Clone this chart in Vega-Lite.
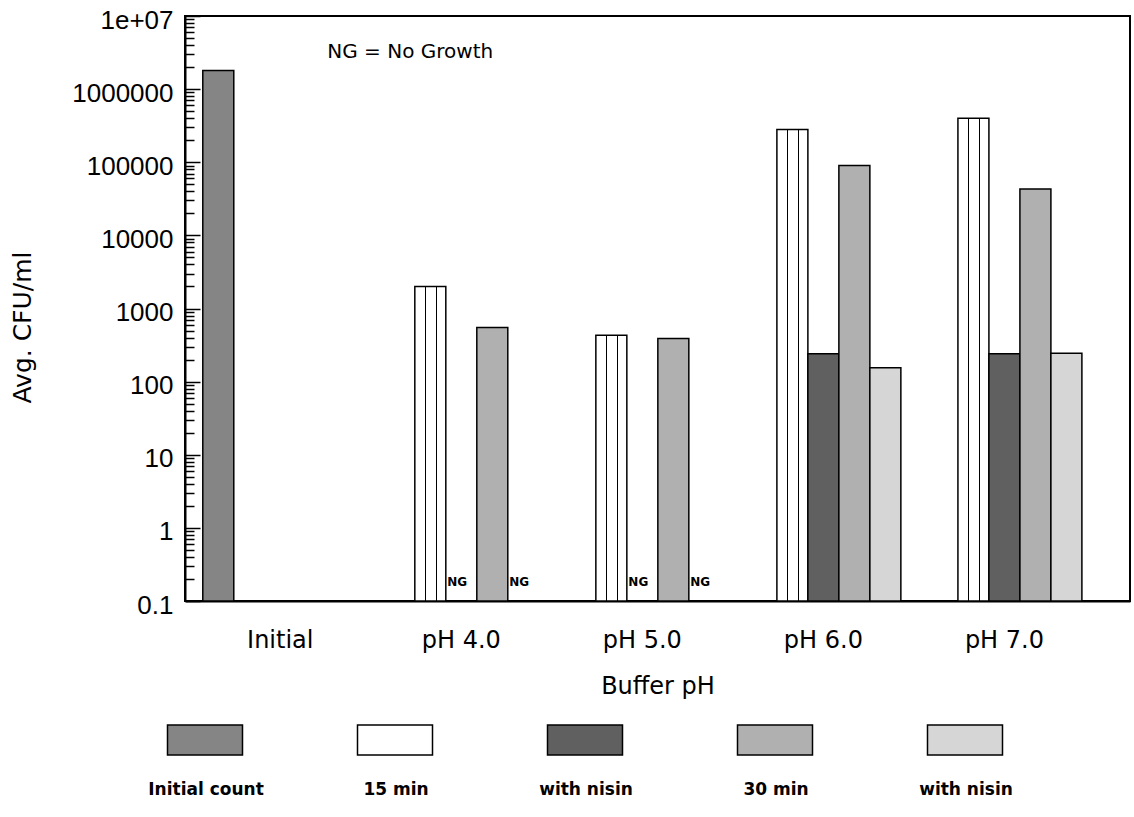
{
  "$schema": "https://vega.github.io/schema/vega-lite/v6.json",
  "width": 945,
  "height": 585,
  "autosize": {"type": "none"},
  "padding": {"left": 185, "top": 16, "right": 4, "bottom": 216},
  "background": "white",
  "config": {
    "font": "Liberation Sans",
    "view": {"stroke": "black", "strokeWidth": 2},
    "axis": {"grid": false, "domainColor": "black", "domainWidth": 2, "labelColor": "black", "titleColor": "black", "tickColor": "black"}
  },
  "datasets": {
    "bars": [
      {"group": "Initial", "series": "Initial count", "value": 1800000},
      {"group": "pH 4.0", "series": "15 min", "value": 2000},
      {"group": "pH 4.0", "series": "30 min", "value": 550},
      {"group": "pH 5.0", "series": "15 min", "value": 430},
      {"group": "pH 5.0", "series": "30 min", "value": 390},
      {"group": "pH 6.0", "series": "15 min", "value": 280000},
      {"group": "pH 6.0", "series": "with nisin (15 min)", "value": 240},
      {"group": "pH 6.0", "series": "30 min", "value": 90000},
      {"group": "pH 6.0", "series": "with nisin (30 min)", "value": 155},
      {"group": "pH 7.0", "series": "15 min", "value": 400000},
      {"group": "pH 7.0", "series": "with nisin (15 min)", "value": 240},
      {"group": "pH 7.0", "series": "30 min", "value": 43000},
      {"group": "pH 7.0", "series": "with nisin (30 min)", "value": 245}
    ],
    "ng": [
      {"group": "pH 4.0", "series": "with nisin (15 min)", "value": 0.18, "label": "NG"},
      {"group": "pH 4.0", "series": "with nisin (30 min)", "value": 0.18, "label": "NG"},
      {"group": "pH 5.0", "series": "with nisin (15 min)", "value": 0.18, "label": "NG"},
      {"group": "pH 5.0", "series": "with nisin (30 min)", "value": 0.18, "label": "NG"}
    ],
    "note": [
      {"group": "Initial", "series": "30 min", "value": 3200000, "label": "NG = No Growth"}
    ]
  },
  "encoding": {
    "x": {
      "field": "group",
      "type": "nominal",
      "sort": ["Initial", "pH 4.0", "pH 5.0", "pH 6.0", "pH 7.0"],
      "scale": {"paddingInner": 0.144, "paddingOuter": 0.182, "align": 0.27},
      "axis": {
        "title": "Buffer pH",
        "labelAngle": 0,
        "ticks": false,
        "labelFont": "DejaVu Sans",
        "labelFontSize": 24,
        "labelPadding": 27,
        "titleFont": "DejaVu Sans",
        "titleFontSize": 24,
        "titleFontWeight": "normal",
        "titlePadding": 22
      }
    },
    "xOffset": {
      "field": "series",
      "type": "nominal",
      "scale": {"domain": ["Initial count", "15 min", "with nisin (15 min)", "30 min", "with nisin (30 min)"], "paddingInner": 0, "paddingOuter": 0}
    },
    "y": {
      "field": "value",
      "type": "quantitative",
      "scale": {"type": "log", "domain": [0.1, 10000000], "nice": false},
      "axis": {
        "title": "Avg. CFU/ml",
        "titleFont": "DejaVu Sans",
        "titleFontSize": 25,
        "titleFontWeight": "normal",
        "titlePadding": 36,
        "titleY": 311,
        "labelFontSize": 26,
        "labelPadding": 27,
        "labelOffset": 4,
        "labelOverlap": false,
        "labelBound": false,
        "labelFlush": false,
        "values": [0.1, 0.2, 0.3, 0.4, 0.5, 0.6, 0.7, 0.8, 0.9, 1, 2, 3, 4, 5, 6, 7, 8, 9, 10, 20, 30, 40, 50, 60, 70, 80, 90, 100, 200, 300, 400, 500, 600, 700, 800, 900, 1000, 2000, 3000, 4000, 5000, 6000, 7000, 8000, 9000, 10000, 20000, 30000, 40000, 50000, 60000, 70000, 80000, 90000, 100000, 200000, 300000, 400000, 500000, 600000, 700000, 800000, 900000, 1000000, 2000000, 3000000, 4000000, 5000000, 6000000, 7000000, 8000000, 9000000, 10000000],
        "labelExpr": "datum.value == 10000000 ? '1e+07' : (indexof([0.1, 1, 10, 100, 1000, 10000, 100000, 1000000], datum.value) >= 0 ? format(datum.value, '') : '')",
        "tickSize": {"condition": {"test": "indexof([0.1, 1, 10, 100, 1000, 10000, 100000, 1000000, 10000000], datum.value) >= 0", "value": -15}, "value": -9},
        "tickWidth": 1.5
      }
    }
  },
  "layer": [
    {
      "data": {"name": "bars"},
      "mark": {"type": "bar", "stroke": "black", "strokeWidth": 1.5},
      "encoding": {
        "y2": {"datum": 0.1},
        "color": {
          "field": "series",
          "type": "nominal",
          "condition": {
            "test": "datum.series == '15 min'",
            "value": {
              "gradient": "linear", "x1": 0, "y1": 0, "x2": 1, "y2": 0,
              "stops": [
                {"offset": 0, "color": "white"},
                {"offset": 0.33, "color": "white"},
                {"offset": 0.33, "color": "black"},
                {"offset": 0.37, "color": "black"},
                {"offset": 0.37, "color": "white"},
                {"offset": 0.68, "color": "white"},
                {"offset": 0.68, "color": "black"},
                {"offset": 0.72, "color": "black"},
                {"offset": 0.72, "color": "white"},
                {"offset": 1, "color": "white"}
              ]
            }
          },
          "scale": {
            "domain": ["Initial count", "15 min", "with nisin (15 min)", "30 min", "with nisin (30 min)"],
            "range": ["#858585", "#ffffff", "#606060", "#b0b0b0", "#d6d6d6"]
          },
          "legend": {
            "title": null,
            "orient": "none",
            "legendX": -11,
            "legendY": 693,
            "direction": "horizontal",
            "columns": 5,
            "gridAlign": "all",
            "columnPadding": 85,
            "symbolType": "M-1.25,-0.5H1.25V0.5H-1.25Z",
            "symbolSize": 3600,
            "symbolStrokeColor": "black",
            "symbolStrokeWidth": 1.5,
            "labelFont": "DejaVu Sans",
            "labelFontSize": 17,
            "labelFontWeight": "bold",
            "labelColor": "black",
            "labelAlign": "center",
            "labelOffset": -30,
            "labelLimit": 300,
            "labelExpr": "indexof(datum.label, 'with nisin') == 0 ? 'with nisin' : datum.label",
            "encode": {
              "labels": {"update": {"dy": {"value": 50}}},
              "symbols": {"update": {
                "stroke": {"value": "black"},
                "strokeWidth": {"value": 1.5},
                "opacity": {"value": 1},
                "fill": [
                {"test": "datum.label == '15 min' || datum.value == '15 min'", "value": {
                  "gradient": "linear", "x1": 0, "y1": 0, "x2": 1, "y2": 0,
                  "stops": [
                    {"offset": 0, "color": "white"},
                    {"offset": 0.19, "color": "white"}, {"offset": 0.19, "color": "black"}, {"offset": 0.215, "color": "black"}, {"offset": 0.215, "color": "white"},
                    {"offset": 0.39, "color": "white"}, {"offset": 0.39, "color": "black"}, {"offset": 0.415, "color": "black"}, {"offset": 0.415, "color": "white"},
                    {"offset": 0.59, "color": "white"}, {"offset": 0.59, "color": "black"}, {"offset": 0.615, "color": "black"}, {"offset": 0.615, "color": "white"},
                    {"offset": 0.79, "color": "white"}, {"offset": 0.79, "color": "black"}, {"offset": 0.815, "color": "black"}, {"offset": 0.815, "color": "white"},
                    {"offset": 1, "color": "white"}
                  ]
                }},
                {"scale": "color", "field": "value"}
              ]}}
            }
          }
        }
      }
    },
    {
      "data": {"name": "ng"},
      "mark": {"type": "text", "font": "DejaVu Sans", "fontSize": 12, "fontWeight": "bold", "align": "left", "dx": -14, "baseline": "middle", "color": "black"},
      "encoding": {"text": {"field": "label"}}
    },
    {
      "data": {"name": "note"},
      "mark": {"type": "text", "font": "DejaVu Sans", "fontSize": 20, "align": "left", "dx": 16, "baseline": "middle", "color": "black"},
      "encoding": {"text": {"field": "label"}}
    }
  ]
}
